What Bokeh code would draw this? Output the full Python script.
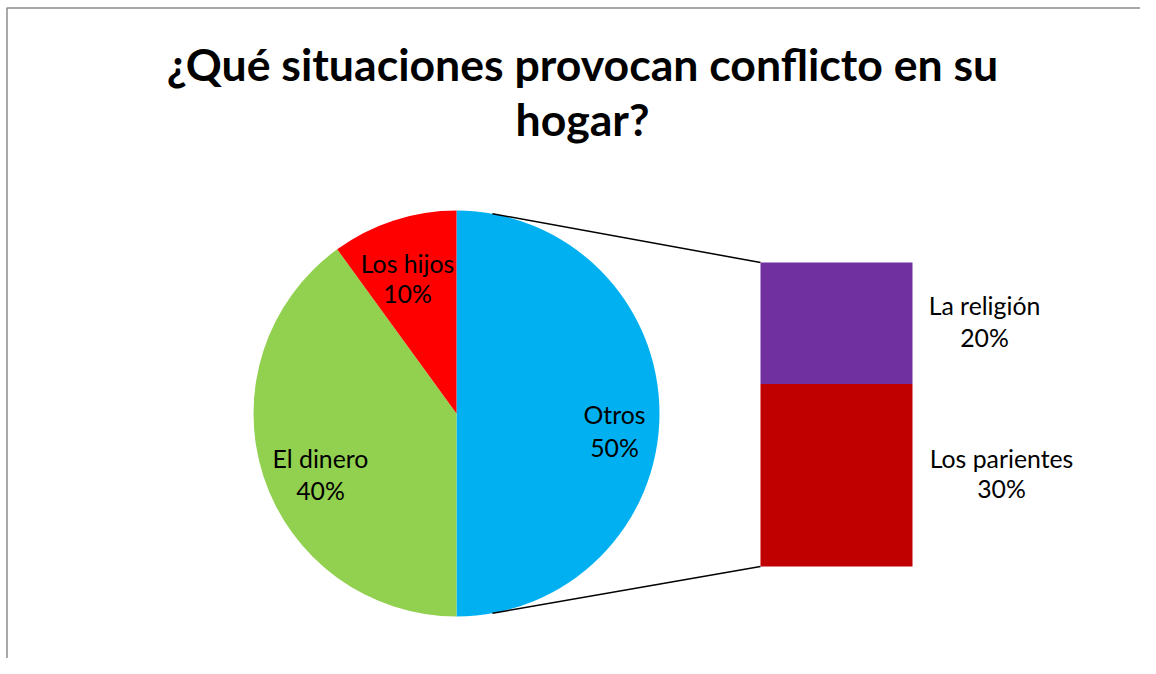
import math
from bokeh.plotting import figure
from bokeh.models import Range1d
from bokeh.core.properties import value
from bokeh.embed import file_html
from bokeh.resources import INLINE

# ---- data ----
main_labels = ["Otros", "El dinero", "Los hijos"]
main_values = [50, 40, 10]
main_colors = ["#00B0F0", "#92D050", "#FF0000"]

bar_labels = ["Los parientes", "La religión"]
bar_values = [30, 20]
bar_colors = ["#C00000", "#7030A0"]

title_lines = ["¿Qué situaciones provocan conflicto en su", "hogar?"]

# ---- layout (screen pixel coordinates) ----
W, H = 1140, 658


def Y(py):
    return H - py


FONT = "Lato"
cx, cy, R = 456, 413, 203
bar_left, bar_right, bar_bottom, bar_top = 760, 912, 566, 262
TXT_SHIFT = 10  # compensate baseline placement

p = figure(width=W, height=H, output_backend="svg", toolbar_location=None,
           x_range=Range1d(0, W), y_range=Range1d(0, H),
           min_border=0)
p.axis.visible = False
p.grid.visible = False
p.outline_line_color = None
p.background_fill_color = "white"

# chart frame (left and top edges visible)
p.line([6.5, 6.5, 1200], [Y(700), Y(7.5), Y(7.5)], line_color="#8C8C8C", line_width=1.5)

# ---- pie: "Otros" slice occupies the right half starting at top going clockwise ----
total = sum(main_values)
angle_cursor = math.pi / 2  # top
for lab, val, col in zip(main_labels, main_values, main_colors):
    sweep = 2 * math.pi * val / total
    end = angle_cursor
    beg = angle_cursor - sweep
    p.wedge(x=cx, y=Y(cy), radius=R, start_angle=beg, end_angle=end,
            fill_color=col, line_color=None)
    angle_cursor = beg

# ---- bar of "Otros" ----
bar_total = sum(bar_values)
scale = (bar_bottom - bar_top) / bar_total
acc = 0
for lab, val, col in zip(bar_labels, bar_values, bar_colors):
    b = bar_bottom - acc * scale
    t = bar_bottom - (acc + val) * scale
    p.quad(left=bar_left, right=bar_right, bottom=Y(b), top=Y(t),
           fill_color=col, line_color=None)
    acc += val

# ---- connector lines ----
ca = math.radians(79.8)
p.line([cx + R * math.cos(ca), bar_left], [Y(cy) + R * math.sin(ca), Y(bar_top)],
       line_color="black", line_width=1.5)
p.line([cx + R * math.cos(ca), bar_left], [Y(cy) - R * math.sin(ca), Y(bar_bottom)],
       line_color="black", line_width=1.5)

# ---- data labels ----
label_pos = {
    "Los hijos": (407, 273, 303),
    "El dinero": (320, 468, 500),
    "Otros": (614, 424, 457),
    "La religión": (984, 315, 347),
    "Los parientes": (1001, 468, 498),
}
vals = dict(zip(main_labels + bar_labels, main_values + bar_values))
for lab, (lx, y1, y2) in label_pos.items():
    p.text(x=[lx, lx], y=[Y(y1 - TXT_SHIFT), Y(y2 - TXT_SHIFT)],
           text=[lab, f"{vals[lab]}%"],
           text_align="center", text_baseline="alphabetic",
           text_font=value(FONT), text_font_size="24.8px", text_color="black")

# ---- title ----
p.text(x=[582, 582], y=[Y(73 - TXT_SHIFT), Y(128 - TXT_SHIFT)], text=title_lines,
       text_align="center", text_baseline="alphabetic",
       text_font=value(FONT), text_font_style="bold",
       text_font_size="44.6px", text_color="black")

open("out.html", "w").write(file_html(p, INLINE))
